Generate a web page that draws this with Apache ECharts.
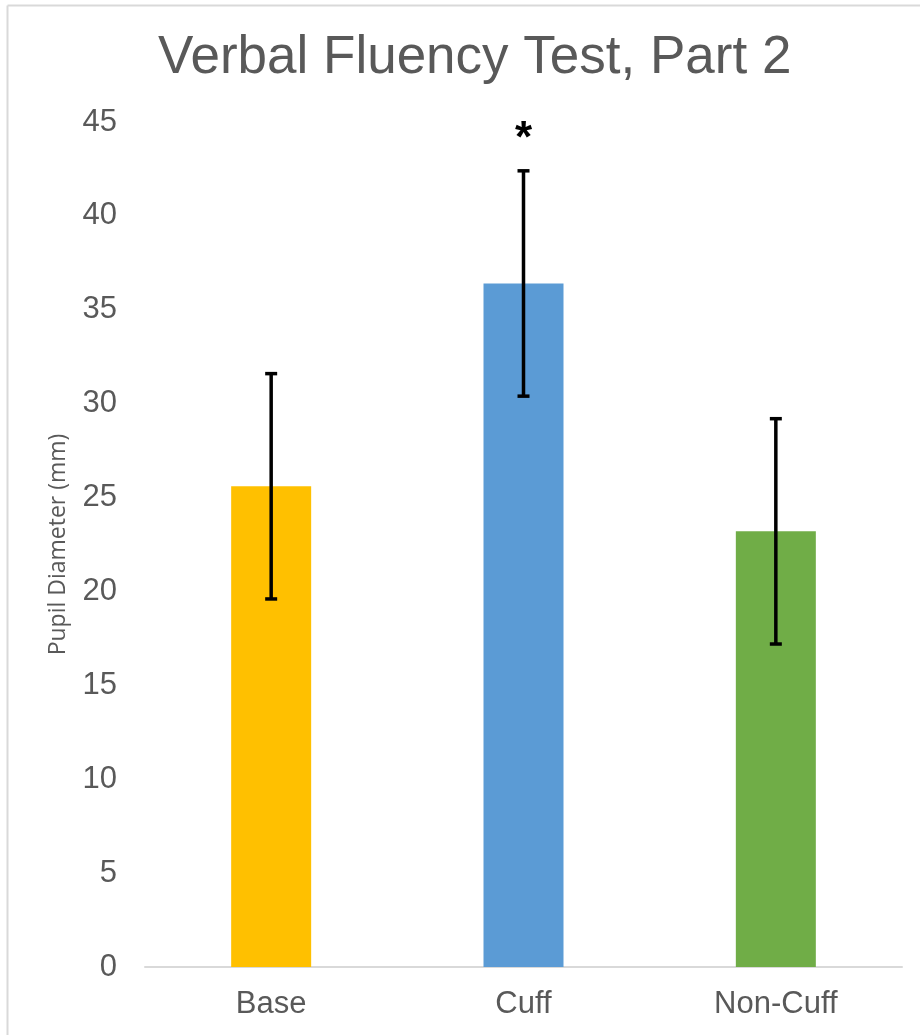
<!DOCTYPE html>
<html>
<head>
<meta charset="utf-8">
<script src="https://cdn.jsdelivr.net/npm/echarts@6/dist/echarts.min.js"></script>
<style>
  html, body { margin: 0; padding: 0; background: #fff; }
  #chart { width: 920px; height: 1035px; }
</style>
</head>
<body>
<div id="chart"></div>
<script>
// Mean pupil diameter per condition, with ± error
const categories = ['Base', 'Cuff', 'Non-Cuff'];
const means = [25.6, 36.4, 23.2];
const errors = [6.0, 6.0, 6.0];
const significance = ['', '*', ''];
const barColors = ['#FFC000', '#5B9BD5', '#70AD47'];
const yTicks = { min: 0, max: 45, interval: 5 };

const errorData = categories.map((c, i) => [i, means[i] - errors[i], means[i] + errors[i], significance[i]]);

const chart = echarts.init(document.getElementById('chart'), null, { renderer: 'canvas' });

chart.setOption({
  animation: false,
  backgroundColor: '#ffffff',
  title: {
    text: 'Verbal Fluency Test, Part 2',
    left: 153,
    top: 27,
    textStyle: {
      fontFamily: 'Liberation Sans',
      fontSize: 53,
      fontWeight: 'normal',
      color: '#595959'
    }
  },
  graphic: [
    // chart area frame (top and left edges)
    { type: 'line', shape: { x1: 7.5, y1: 5.5, x2: 920, y2: 5.5 }, style: { stroke: '#d9d9d9', lineWidth: 2 } },
    { type: 'line', shape: { x1: 7.5, y1: 5.5, x2: 7.5, y2: 1035 }, style: { stroke: '#d9d9d9', lineWidth: 2 } }
  ],
  grid: { left: 145, right: 18, top: 122, bottom: 68, containLabel: false },
  xAxis: {
    type: 'category',
    data: categories,
    axisLine: { show: true, lineStyle: { color: '#d9d9d9', width: 2 } },
    axisTick: { show: false },
    axisLabel: {
      margin: 22,
      fontFamily: 'Liberation Sans',
      fontSize: 31,
      color: '#595959'
    },
    splitLine: { show: false }
  },
  yAxis: {
    type: 'value',
    min: yTicks.min,
    max: yTicks.max,
    interval: yTicks.interval,
    name: 'Pupil Diameter (mm)',
    nameLocation: 'middle',
    nameGap: 75,
    nameTextStyle: {
      fontFamily: 'Open Sans',
      fontSize: 23,
      color: '#595959'
    },
    axisLine: { show: false },
    axisTick: { show: false },
    splitLine: { show: false },
    axisLabel: {
      margin: 28,
      fontFamily: 'Liberation Sans',
      fontSize: 31,
      color: '#595959'
    }
  },
  series: [
    {
      type: 'bar',
      data: means.map((v, i) => ({ value: v, itemStyle: { color: barColors[i] } })),
      barWidth: 80
    },
    {
      type: 'custom',
      data: errorData,
      z: 10,
      renderItem: function (params, api) {
        const x = api.value(0);
        const lo = api.coord([x, api.value(1)]);
        const hi = api.coord([x, api.value(2)]);
        const half = 6;
        const style = { stroke: '#000', lineWidth: 3.5 };
        const children = [
          { type: 'line', shape: { x1: hi[0], y1: hi[1], x2: lo[0], y2: lo[1] }, style: style },
          { type: 'line', shape: { x1: hi[0] - half, y1: hi[1], x2: hi[0] + half, y2: hi[1] }, style: style },
          { type: 'line', shape: { x1: lo[0] - half, y1: lo[1], x2: lo[0] + half, y2: lo[1] }, style: style }
        ];
        const mark = api.value(3);
        if (mark) {
          children.push({
            type: 'text',
            style: {
              text: mark,
              x: hi[0],
              y: hi[1] - 31,
              align: 'center',
              verticalAlign: 'middle',
              fontFamily: 'Liberation Sans',
              fontSize: 44,
              fontWeight: 'bold',
              fill: '#000'
            }
          });
        }
        return { type: 'group', children: children };
      }
    }
  ]
});
</script>
</body>
</html>
